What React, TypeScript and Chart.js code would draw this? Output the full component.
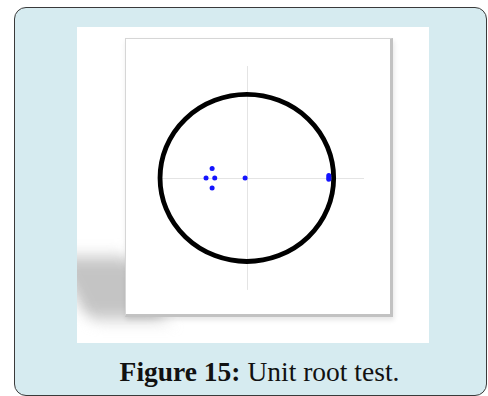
import React, { useEffect, useRef } from "react";
import { Chart, registerables } from "chart.js";

Chart.register(...registerables);

const rootRe = [-0.40, -0.47, -0.37, -0.40, -0.02, 0.944, 0.944, 0.944];
const rootIm = [0.113, 0.0, 0.0, -0.12, 0.0, 0.03, 0.005, -0.015];

// Reference cross lines extents
const hLine = [-1.0, 1.35];
const vLine = [-1.34, 1.34];

const xRange = [-1.346, 1.603];
const yRange = [-1.581, 1.616];

const unitCirclePlugin = {
  id: "unitCircle",
  beforeDatasetsDraw(chart: any) {
    const { ctx, scales } = chart;
    const xs = scales.x;
    const ys = scales.y;
    const cx = xs.getPixelForValue(0);
    const cy = ys.getPixelForValue(0);
    ctx.save();
    ctx.strokeStyle = "#e4e4e4";
    ctx.lineWidth = 1;
    ctx.beginPath();
    ctx.moveTo(xs.getPixelForValue(hLine[0]), Math.round(cy) + 0.5);
    ctx.lineTo(xs.getPixelForValue(hLine[1]), Math.round(cy) + 0.5);
    ctx.moveTo(Math.round(cx) + 0.5, ys.getPixelForValue(vLine[1]));
    ctx.lineTo(Math.round(cx) + 0.5, ys.getPixelForValue(vLine[0]));
    ctx.stroke();
    const rx = xs.getPixelForValue(1) - cx;
    const ry = cy - ys.getPixelForValue(1);
    ctx.strokeStyle = "#000000";
    ctx.lineWidth = 4.8;
    ctx.beginPath();
    ctx.ellipse(cx, cy, rx, ry, 0, 0, Math.PI * 2);
    ctx.stroke();
    ctx.restore();
  },
};

function RootChart() {
  const ref = useRef<HTMLCanvasElement | null>(null);
  useEffect(() => {
    if (!ref.current) return;
    const chart = new Chart(ref.current, {
      type: "scatter",
      data: {
        datasets: [
          {
            data: rootRe.map((r, i) => ({ x: r, y: rootIm[i] })),
            backgroundColor: "#1414ff",
            borderColor: "#1414ff",
            pointRadius: 2.5,
            borderWidth: 0,
          },
        ],
      },
      options: {
        animation: false,
        responsive: false,
        maintainAspectRatio: false,
        layout: { padding: 0 },
        plugins: { legend: { display: false }, tooltip: { enabled: false } },
        scales: {
          x: { type: "linear", min: xRange[0], max: xRange[1], display: false },
          y: { type: "linear", min: yRange[0], max: yRange[1], display: false },
        },
      },
      plugins: [unitCirclePlugin],
    });
    return () => chart.destroy();
  }, []);
  return <canvas ref={ref} width={264} height={275} style={{ display: "block", width: 264, height: 275 }} />;
}

export default function App() {
  return (
    <div style={{ position: "absolute", left: 0, top: 0, width: 488, height: 396, overflow: "hidden" }}>
      <div
        style={{
          position: "absolute",
          left: 14,
          top: 7,
          width: 473,
          height: 389,
          boxSizing: "border-box",
          background: "#d6ebf0",
          border: "1.5px solid #3a3a3a",
          borderRadius: 12,
        }}
      />
      <div
        style={{
          position: "absolute",
          left: 77,
          top: 27,
          width: 352,
          height: 316,
          background: "#ffffff",
          overflow: "hidden",
        }}
      >
        <div
          style={{
            position: "absolute",
            left: -6,
            top: 230,
            width: 76,
            height: 62,
            background: "#c4c4c4",
            filter: "blur(8px)",
            transform: "skewX(28deg)",
          }}
        />
        <div
          style={{
            position: "absolute",
            left: 48,
            top: 11,
            width: 268,
            height: 279,
            boxSizing: "border-box",
            background: "#ffffff",
            borderTop: "1px solid #d6d6d6",
            borderLeft: "1px solid #d6d6d6",
            borderRight: "3px solid #c2c2c2",
            borderBottom: "3px solid #c2c2c2",
            boxShadow: "1px 3px 5px rgba(0,0,0,0.10)",
          }}
        >
          <RootChart />
        </div>
      </div>
      <div
        style={{
          position: "absolute",
          left: 0,
          width: 519,
          top: 358,
          textAlign: "center",
          fontFamily: "'Liberation Serif', serif",
          fontSize: 27.5,
          lineHeight: "27.5px",
          color: "#111",
          whiteSpace: "nowrap",
        }}
      >
        <b>Figure 15:</b> Unit root test.
      </div>
    </div>
  );
}
